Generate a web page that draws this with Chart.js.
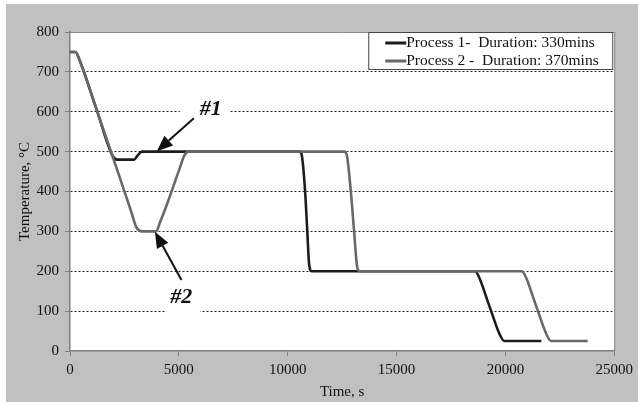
<!DOCTYPE html>
<html>
<head>
<meta charset="utf-8">
<script src="https://cdn.jsdelivr.net/npm/chart.js@4.4.0/dist/chart.umd.min.js"></script>
<style>
  html, body { margin: 0; padding: 0; background: #fff; }
  #wrap { position: relative; width: 638px; height: 402px; }
</style>
</head>
<body>
<div id="wrap"><canvas id="chart" width="638" height="402"></canvas></div>
<script>
// Temperature vs time for the two heat treatment processes

const p1Time = [0, 250, 450, 1200, 1950, 2150, 2950, 3100, 3300, 10550, 10650, 10800, 10900, 10980, 11100, 18600, 18750, 19250, 19750, 19950, 21650];
const p1Temp = [750, 750, 728, 609, 490, 480, 480, 490, 500, 500, 490, 400, 300, 220, 200, 200, 190, 115, 40, 25, 25];

const p2Time = [0, 250, 450, 1200, 2300, 2850, 3050, 3300, 3950, 4150, 4400, 5050, 5250, 5450, 12600, 12720, 12900, 13050, 13180, 13300, 20750, 20900, 21400, 21900, 22100, 23780];
const p2Temp = [750, 750, 728, 609, 433, 343, 310, 300, 300, 325, 360, 460, 490, 500, 500, 490, 400, 300, 215, 200, 200, 190, 115, 40, 25, 25];

const seriesNames = ['Process 1-  Duration: 330mins', 'Process 2 -  Duration: 370mins'];
const seriesColors = ['#1c1c1c', '#686868'];

const xTicks = [0, 5000, 10000, 15000, 20000, 25000];
const yTicks = [0, 100, 200, 300, 400, 500, 600, 700, 800];

// callouts, in data units
const callouts = [
    { text: '#1', x: 6470, y: 606, tail: [5690, 584], tip: [3990, 501], box: [-31, -15, 50, 30] },
    { text: '#2', x: 5110, y: 135, tail: [5120, 178], tip: [3900, 299], box: [-15, -14, 34, 36] }
];

const FONT = "'Liberation Serif', 'Times New Roman', serif";
Chart.defaults.font.family = FONT;
Chart.defaults.font.size = 15;
Chart.defaults.color = '#111';

function toPoints(times, temps) {
    return times.map((t, i) => ({ x: t, y: temps[i] }));
}

// gray page behind everything, white plot area, thin frame
const backgroundPlugin = {
    id: 'background',
    beforeDraw(chart) {
        const { ctx, chartArea: a } = chart;
        ctx.save();
        ctx.fillStyle = '#c0c0c0';
        ctx.fillRect(6, 4, chart.width - 6, chart.height - 4);
        ctx.fillStyle = '#ffffff';
        ctx.fillRect(a.left, a.top, a.right - a.left, a.bottom - a.top);
        ctx.restore();
    },
    afterDraw(chart) {
        const { ctx, chartArea: a } = chart;
        ctx.save();
        ctx.strokeStyle = '#8a8a8a';
        ctx.lineWidth = 1;
        ctx.beginPath();
        ctx.moveTo(a.left, a.top + 0.5);
        ctx.lineTo(a.right + 0.5, a.top + 0.5);
        ctx.lineTo(a.right + 0.5, a.bottom);
        ctx.stroke();
        ctx.restore();
    }
};

function drawArrow(ctx, x1, y1, x2, y2) {
    const ang = Math.atan2(y2 - y1, x2 - x1);
    const len = 16, half = 6.5;
    const bx = x2 - len * Math.cos(ang), by = y2 - len * Math.sin(ang);
    ctx.beginPath();
    ctx.moveTo(x1, y1);
    ctx.lineTo(bx, by);
    ctx.lineWidth = 2;
    ctx.stroke();
    ctx.beginPath();
    ctx.moveTo(x2, y2);
    ctx.lineTo(bx + half * Math.sin(ang), by - half * Math.cos(ang));
    ctx.lineTo(bx - half * Math.sin(ang), by + half * Math.cos(ang));
    ctx.closePath();
    ctx.fill();
}

const calloutPlugin = {
    id: 'callouts',
    afterDatasetsDraw(chart) {
        const { ctx, scales: { x, y } } = chart;
        ctx.save();
        callouts.forEach(c => {
            const cx = x.getPixelForValue(c.x), cy = y.getPixelForValue(c.y);
            ctx.fillStyle = '#ffffff';
            ctx.fillRect(cx + c.box[0], cy + c.box[1], c.box[2], c.box[3]);
            ctx.fillStyle = '#111';
            ctx.strokeStyle = '#111';
            ctx.font = 'italic bold 22px ' + FONT;
            ctx.textAlign = 'center';
            ctx.textBaseline = 'middle';
            ctx.fillText(c.text, cx, cy);
            drawArrow(ctx, x.getPixelForValue(c.tail[0]), y.getPixelForValue(c.tail[1]),
                x.getPixelForValue(c.tip[0]), y.getPixelForValue(c.tip[1]));
        });
        ctx.restore();
    }
};

// boxed legend in the top right corner
const legendPlugin = {
    id: 'boxLegend',
    afterDraw(chart) {
        const { ctx, chartArea: a } = chart;
        const w = 244, h = 37;
        const left = a.right - w - 2, top = a.top;
        ctx.save();
        ctx.fillStyle = '#ffffff';
        ctx.fillRect(left, top, w, h);
        ctx.strokeStyle = '#444';
        ctx.lineWidth = 1;
        ctx.strokeRect(left + 0.5, top + 0.5, w, h);
        ctx.font = '15.5px ' + FONT;
        ctx.textBaseline = 'middle';
        ctx.textAlign = 'left';
        seriesNames.forEach((name, i) => {
            const yy = top + 11 + i * 18;
            ctx.strokeStyle = seriesColors[i];
            ctx.lineWidth = 3;
            ctx.beginPath();
            ctx.moveTo(left + 17, yy);
            ctx.lineTo(left + 38, yy);
            ctx.stroke();
            ctx.fillStyle = '#111';
            ctx.fillText(name, left + 38, yy);
        });
        ctx.restore();
    }
};

new Chart(document.getElementById('chart'), {
    type: 'line',
    data: {
        datasets: [
            {
                label: seriesNames[0],
                data: toPoints(p1Time, p1Temp),
                borderColor: seriesColors[0],
                borderWidth: 2.6,
                pointRadius: 0,
                cubicInterpolationMode: 'monotone',
                order: 1
            },
            {
                label: seriesNames[1],
                data: toPoints(p2Time, p2Temp),
                borderColor: seriesColors[1],
                borderWidth: 2.6,
                pointRadius: 0,
                cubicInterpolationMode: 'monotone',
                order: 0
            }
        ]
    },
    options: {
        responsive: false,
        animation: false,
        layout: { padding: { left: 0, top: 32, right: 23, bottom: 0 } },
        plugins: {
            legend: { display: false },
            tooltip: { enabled: false }
        },
        scales: {
            x: {
                type: 'linear',
                min: 0,
                max: 25000,
                afterFit: s => { s.height = 51; },
                afterBuildTicks: s => { s.ticks = xTicks.map(v => ({ value: v })); },
                ticks: { padding: 5, maxRotation: 0, color: '#111', callback: v => String(v) },
                grid: { drawOnChartArea: false, drawTicks: true, tickLength: 5, tickColor: '#808080' },
                border: { color: '#808080', width: 1.5 },
                title: { display: true, text: 'Time, s', padding: { top: 0, bottom: 1 }, color: '#111' }
            },
            y: {
                min: 0,
                max: 800,
                afterFit: s => { s.width = 70; },
                afterBuildTicks: s => { s.ticks = yTicks.map(v => ({ value: v })); },
                ticks: { padding: 6, color: '#111' },
                grid: {
                    color: c => (c.tick && (c.tick.value === 0 || c.tick.value === 800)) ? 'rgba(0,0,0,0)' : '#222',
                    lineWidth: 1,
                    tickLength: 5,
                    tickColor: '#808080'
                },
                border: { color: '#808080', width: 1.5, dash: [2, 2] },
                title: { display: true, text: 'Temperature, °C', padding: { top: 16, bottom: 0 }, color: '#111' }
            }
        }
    },
    plugins: [backgroundPlugin, calloutPlugin, legendPlugin]
});
</script>
</body>
</html>
